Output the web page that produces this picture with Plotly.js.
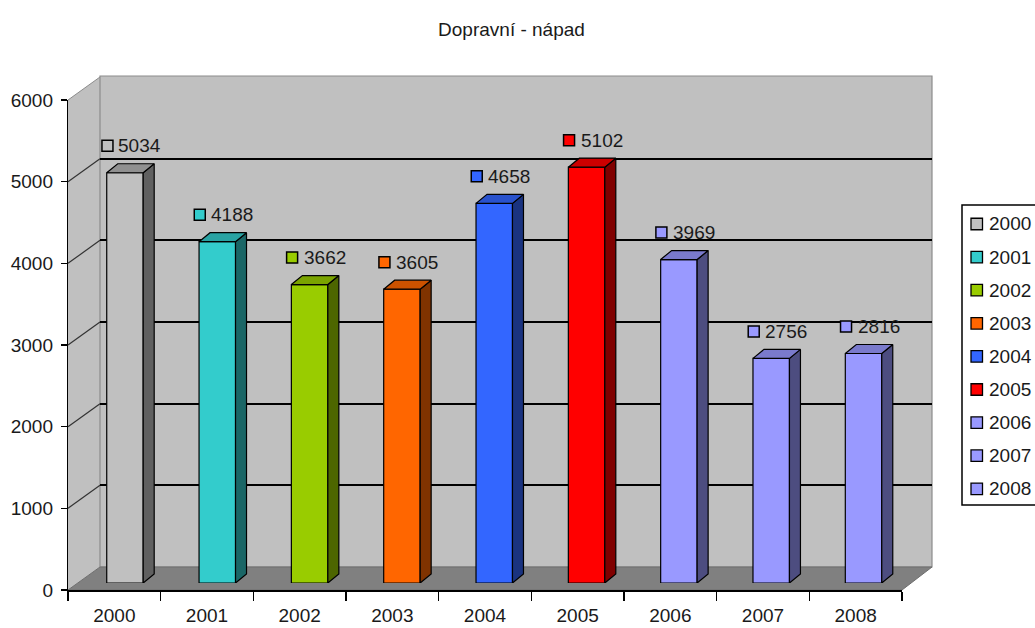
<!DOCTYPE html>
<html>
<head>
<meta charset="utf-8">
<script src="https://cdn.plot.ly/plotly-3.0.1.min.js"></script>
<style>html,body{margin:0;padding:0;background:#fff;}#chart{width:1035px;height:628px;}</style>
</head>
<body>
<div id="chart"></div>
<script>
// ---- data ----
const chartTitle = 'Dopravní - nápad';
const categories = ['2000', '2001', '2002', '2003', '2004', '2005', '2006', '2007', '2008'];
const values = [5034, 4188, 3662, 3605, 4658, 5102, 3969, 2756, 2816];
const yTickVals = [0, 1000, 2000, 3000, 4000, 5000, 6000];
const frontColors = ['#c0c0c0', '#33cccc', '#99cc00', '#ff6600', '#3366ff', '#ff0000', '#9999ff', '#9999ff', '#9999ff'];
const sideColors = ['#606060', '#1a6666', '#4d6600', '#803300', '#1a3380', '#800000', '#4d4d80', '#4d4d80', '#4d4d80'];
const topColors = ['#909090', '#29a3a3', '#7aa300', '#cc5200', '#2952cc', '#cc0000', '#7a7acc', '#7a7acc', '#7a7acc'];

// ---- geometry (pixels) ----
const W = 1035, H = 628;
const px = x => x / W;
const py = y => 1 - y / H;
const FL = 68, FR = 902, FB = 590, FT = 100;      // front frame
const BL = 100, BR = 932, BB = 567, BT = 77;      // back wall
const BAR_L = 78.8, BAR_R = 909.7, BAR_B = 583, BAR_T = 94; // bar plane
const YMAX = 6000;
const barW = 0.395;
const depthPx = {x: 11, y: 9};
const catPx = (BAR_R - BAR_L) / categories.length;
const unitPx = (BAR_B - BAR_T) / YMAX;
const dX = depthPx.x / catPx, dY = depthPx.y / unitPx;
const font = {family: 'Liberation Sans, Arial, sans-serif', size: 19, color: '#1a1a1a'};

const traces = [];
// front faces
categories.forEach((c, i) => {
  traces.push({
    type: 'bar', x: [i], y: [values[i]], name: c, width: barW,
    xaxis: 'x3', yaxis: 'y3', showlegend: false,
    marker: {color: frontColors[i], line: {color: '#000', width: 1.2}},
    hoverinfo: 'skip'
  });
});
// side and top faces
categories.forEach((c, i) => {
  const r = i + barW / 2, l = i - barW / 2, v = values[i];
  traces.push({
    type: 'scatter', mode: 'lines', fill: 'toself', xaxis: 'x3', yaxis: 'y3',
    x: [r, r + dX, r + dX, r, r], y: [0, dY, v + dY, v, 0],
    fillcolor: sideColors[i], line: {color: '#000', width: 1.2}, showlegend: false, hoverinfo: 'skip'
  });
  traces.push({
    type: 'scatter', mode: 'lines', fill: 'toself', xaxis: 'x3', yaxis: 'y3',
    x: [l, r, r + dX, l + dX, l], y: [v, v, v + dY, v + dY, v],
    fillcolor: topColors[i], line: {color: '#000', width: 1.2}, showlegend: false, hoverinfo: 'skip'
  });
});

const shapes = [];
const P = pts => 'M' + pts.map(p => px(p[0]) + ',' + py(p[1])).join('L') + 'Z';
// side wall
shapes.push({type: 'path', xref: 'paper', yref: 'paper', layer: 'below',
  path: P([[FL, FB], [FL, FT], [BL, BT], [BL, BB]]), fillcolor: '#c0c0c0', line: {width: 0}});
// back wall
shapes.push({type: 'rect', xref: 'paper', yref: 'paper', layer: 'below',
  x0: px(BL), x1: px(BR), y0: py(BB), y1: py(BT - 1), fillcolor: '#c0c0c0', line: {color: '#8c8c8c', width: 1.2}});
// floor
shapes.push({type: 'path', xref: 'paper', yref: 'paper', layer: 'below',
  path: P([[FL, FB], [FR, FB], [BR, BB], [BL, BB]]), fillcolor: '#808080', line: {color: '#6e6e6e', width: 1}});
// side-wall diagonals at each tick value
const kF = (FB - FT) / YMAX, kB = (BB - BT) / YMAX;
yTickVals.forEach(v => {
  if (v === 0) return;
  const top = v === YMAX;
  shapes.push({type: 'line', xref: 'paper', yref: 'paper', layer: 'below',
    x0: px(FL), y0: py(FB - v * kF), x1: px(BL), y1: py(BB - v * kB),
    line: {color: top ? '#8c8c8c' : '#333', width: top ? 1 : 1.2}});
});
// data label keys
categories.forEach((c, i) => {
  shapes.push({type: 'rect', xref: 'x3', yref: 'y3', xsizemode: 'pixel', ysizemode: 'pixel',
    xanchor: i, yanchor: values[i], x0: -23, x1: -12, y0: 21.5, y1: 32.5,
    fillcolor: frontColors[i], line: {color: '#000', width: 1.5}, layer: 'above'});
});
// legend box
shapes.push({type: 'rect', xref: 'paper', yref: 'paper', x0: px(962), x1: px(1045), y0: py(505), y1: py(205),
  fillcolor: '#fff', line: {color: '#000', width: 1.5}});
categories.forEach((c, i) => {
  const yc = 224 + i * 33.1;
  shapes.push({type: 'rect', xref: 'paper', yref: 'paper', x0: px(971), x1: px(982.5), y0: py(yc + 5.75), y1: py(yc - 5.75),
    fillcolor: frontColors[i], line: {color: '#000', width: 1.3}});
});

const annotations = [];
categories.forEach((c, i) => {
  annotations.push({xref: 'x3', yref: 'y3', x: i, y: values[i], text: String(values[i]),
    xshift: 15, yshift: 27, showarrow: false, xanchor: 'center', yanchor: 'middle', font: font});
  annotations.push({xref: 'paper', yref: 'paper', x: px(987), y: py(224 + i * 33.1), text: c,
    showarrow: false, xanchor: 'left', yanchor: 'middle', font: font});
});

const layout = {
  width: W, height: H,
  margin: {l: 0, r: 0, t: 0, b: 0},
  paper_bgcolor: '#fff', plot_bgcolor: 'rgba(0,0,0,0)',
  showlegend: false,
  title: {text: chartTitle, font: font, x: 511.5 / W, xanchor: 'center', xref: 'paper',
    y: py(29), yanchor: 'middle', yref: 'paper'},
  font: font,
  xaxis: {domain: [px(FL), px(FR)], range: [-0.5, categories.length - 0.5], anchor: 'y',
    tickmode: 'array', tickvals: categories.map((c, i) => i), ticktext: categories,
    ticks: '', showgrid: false, zeroline: false, showline: true, linecolor: '#000', linewidth: 2,
    tickfont: font, ticklabelstandoff: 7,
    minor: {tickmode: 'array', tickvals: categories.map((c, i) => i - 0.5).concat([categories.length - 0.5]),
      ticks: 'outside', ticklen: 9, tickcolor: '#000', tickwidth: 1.5, showgrid: false},
    fixedrange: true},
  yaxis: {domain: [py(FB), py(FT)], range: [0, YMAX], anchor: 'x',
    tickmode: 'array', tickvals: yTickVals, ticks: 'outside', ticklen: 6, tickcolor: '#000', tickwidth: 1.5,
    showgrid: false, zeroline: false, showline: true, linecolor: '#000', linewidth: 1.2,
    tickfont: font, ticklabelstandoff: 4, fixedrange: true},
  xaxis2: {domain: [px(BL), px(BR)], range: [0, 1], anchor: 'y2', visible: false, fixedrange: true},
  yaxis2: {domain: [py(BB), py(BT)], range: [0, YMAX], anchor: 'x2', showgrid: true, gridcolor: '#000', gridwidth: 2,
    tickmode: 'array', tickvals: yTickVals.slice(1, -1), showticklabels: false, ticks: '', zeroline: false,
    showline: false, fixedrange: true},
  xaxis3: {domain: [px(BAR_L), px(BAR_R)], range: [-0.5, categories.length - 0.5], anchor: 'y3', visible: false, fixedrange: true},
  yaxis3: {domain: [py(BAR_B), py(BAR_T)], range: [0, YMAX], anchor: 'x3', visible: false, fixedrange: true},
  barmode: 'overlay',
  shapes: shapes,
  annotations: annotations
};
// invisible anchor traces so the front-axis and back-wall subplots exist
traces.unshift({type: 'scatter', x: [0.5], y: [0], xaxis: 'x2', yaxis: 'y2', mode: 'markers',
  marker: {opacity: 0}, showlegend: false, hoverinfo: 'skip'});
traces.unshift({type: 'scatter', x: [0], y: [0], xaxis: 'x', yaxis: 'y', mode: 'markers',
  marker: {opacity: 0}, showlegend: false, hoverinfo: 'skip'});

Plotly.newPlot('chart', traces, layout, {staticPlot: true});
</script>
</body>
</html>
